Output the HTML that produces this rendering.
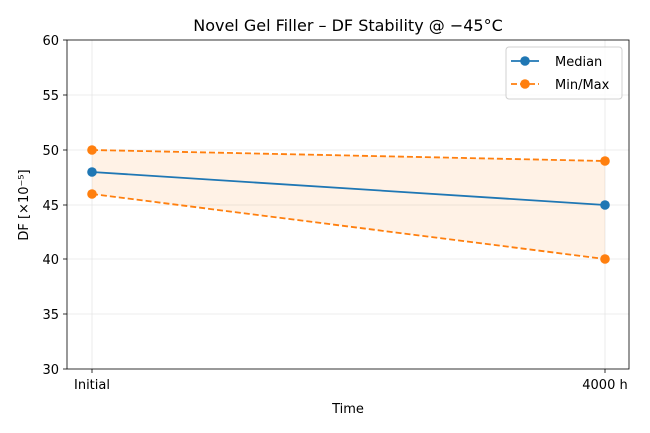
<!DOCTYPE html>
<html><head><style>body{margin:0;background:#fff}svg{display:block}text{font-family:"DejaVu Sans","Liberation Sans",sans-serif;fill:#000}</style></head>
<body>
<svg width="650" height="433" xmlns="http://www.w3.org/2000/svg">
<rect width="650" height="433" fill="#fff"/>
<g stroke="#e6e6e6" stroke-width="0.8">
<line x1="67" x2="629" y1="95" y2="95"/><line x1="67" x2="629" y1="150" y2="150"/><line x1="67" x2="629" y1="205" y2="205"/><line x1="67" x2="629" y1="259" y2="259"/><line x1="67" x2="629" y1="314" y2="314"/>
<line x1="92" x2="92" y1="40" y2="369"/><line x1="605" x2="605" y1="40" y2="369"/>
</g>
<polygon points="92,150 605,161 605,259 92,194" fill="#ff7f0e" fill-opacity="0.1"/>
<polyline points="92,150 605,161" fill="none" stroke="#ff7f0e" stroke-width="1.8" stroke-dasharray="6,3"/>
<polyline points="92,194 605,259" fill="none" stroke="#ff7f0e" stroke-width="1.8" stroke-dasharray="6,3"/>
<polyline points="92,172 605,205" fill="none" stroke="#1f77b4" stroke-width="1.8"/>
<g fill="#ff7f0e"><circle cx="92" cy="150" r="4.8"/><circle cx="605" cy="161" r="4.8"/><circle cx="92" cy="194" r="4.8"/><circle cx="605" cy="259" r="4.8"/></g>
<g fill="#1f77b4"><circle cx="92" cy="172" r="4.8"/><circle cx="605" cy="205" r="4.8"/></g>
<rect x="67" y="40" width="562" height="329" fill="none" stroke="#000" stroke-width="0.8"/>
<g stroke="#000" stroke-width="0.8">
<line x1="63" x2="67" y1="40" y2="40"/><line x1="63" x2="67" y1="95" y2="95"/><line x1="63" x2="67" y1="150" y2="150"/><line x1="63" x2="67" y1="205" y2="205"/><line x1="63" x2="67" y1="259" y2="259"/><line x1="63" x2="67" y1="314" y2="314"/><line x1="63" x2="67" y1="369" y2="369"/>
<line x1="92" x2="92" y1="369" y2="373"/><line x1="605" x2="605" y1="369" y2="373"/>
</g>
<g font-size="13" text-anchor="end">
<text x="59" y="45">60</text><text x="59" y="100">55</text><text x="59" y="155">50</text><text x="59" y="210">45</text><text x="59" y="264">40</text><text x="59" y="319">35</text><text x="59" y="374">30</text>
</g>
<g font-size="13" text-anchor="middle">
<text x="92" y="389">Initial</text><text x="605" y="389">4000 h</text>
<text x="348" y="413">Time</text>
<text x="348" y="31" font-size="16">Novel Gel Filler – DF Stability @ −45°C</text>
<text transform="translate(28,205) rotate(-90)">DF [×10⁻⁵]</text>
</g>
<rect x="506" y="47" width="116" height="52" rx="3" fill="#fff" fill-opacity="0.8" stroke="#d0d0d0"/>
<line x1="511" x2="539" y1="61" y2="61" stroke="#1f77b4" stroke-width="1.8"/><circle cx="525" cy="61" r="4.8" fill="#1f77b4"/>
<line x1="511" x2="539" y1="84" y2="84" stroke="#ff7f0e" stroke-width="1.8" stroke-dasharray="6,3"/><circle cx="525" cy="84" r="4.8" fill="#ff7f0e"/>
<text x="555" y="66" font-size="13">Median</text>
<text x="555" y="89" font-size="13">Min/Max</text>
</svg>
</body></html>
